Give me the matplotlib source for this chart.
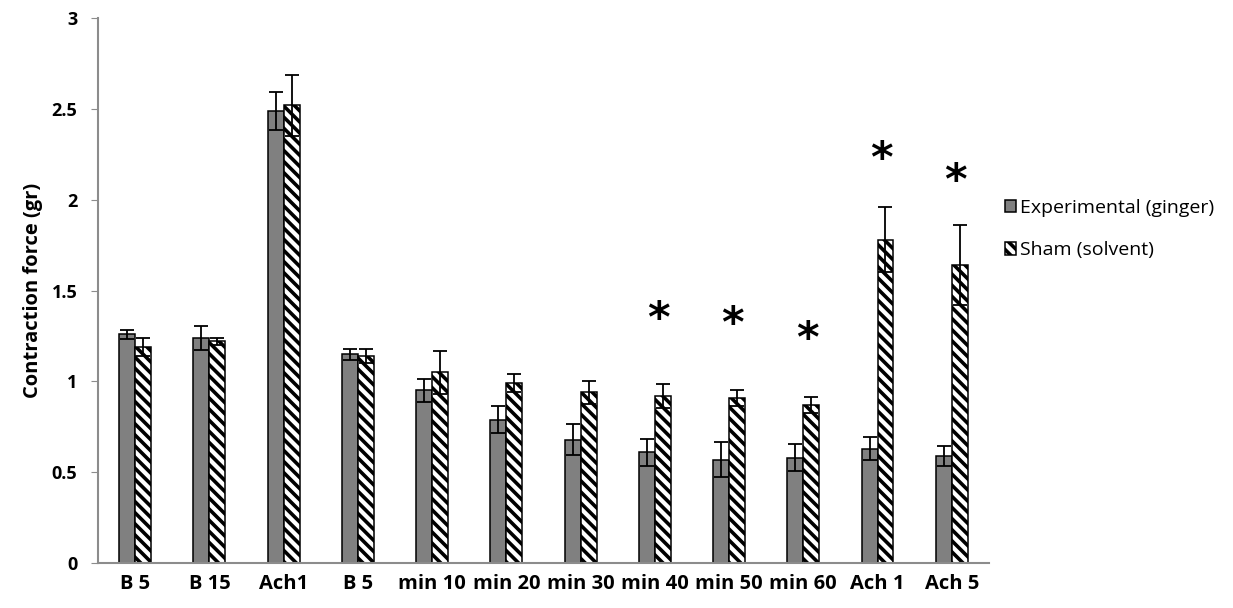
import matplotlib.pyplot as plt
import numpy as np

plt.rcParams['font.family'] = ['Open Sans', 'DejaVu Sans']
plt.rcParams['hatch.linewidth'] = 2.6

categories = ['B 5', 'B 15', 'Ach1', 'B 5', 'min 10', 'min 20', 'min 30',
              'min 40', 'min 50', 'min 60', 'Ach 1', 'Ach 5']
ginger = [1.26, 1.24, 2.49, 1.15, 0.95, 0.79, 0.68, 0.61, 0.57, 0.58, 0.63, 0.59]
ginger_err = [0.025, 0.065, 0.105, 0.03, 0.065, 0.075, 0.085, 0.075, 0.095, 0.075, 0.065, 0.055]
sham = [1.19, 1.22, 2.52, 1.14, 1.05, 0.99, 0.94, 0.92, 0.91, 0.87, 1.78, 1.64]
sham_err = [0.05, 0.02, 0.17, 0.04, 0.12, 0.05, 0.065, 0.065, 0.045, 0.045, 0.18, 0.22]
# significance marks: category index, height
star_idx = [7, 8, 9, 10, 11]
star_y = [1.34, 1.31, 1.23, 2.22, 2.10]

fig = plt.figure(figsize=(12.33, 6.08), dpi=100)
ax = fig.add_axes([0.0795, 0.074, 0.7225, 0.896])

x = np.arange(len(categories))
w = 0.215
ekw = dict(ecolor='black', elinewidth=1.3, capsize=5, capthick=1.3)
ax.bar(x - w / 2, ginger, w, yerr=ginger_err, color='#808080', edgecolor='black',
       linewidth=1.1, label='Experimental (ginger)', error_kw=ekw)
ax.bar(x + w / 2, sham, w, yerr=sham_err, color='white', edgecolor='black',
       linewidth=1.1, hatch='\\\\\\', label='Sham (solvent)', error_kw=ekw)

for i, yv in zip(star_idx, star_y):
    ax.text(i + 0.05, yv, '*', ha='center', va='center', fontsize=31,
            fontweight='bold', family='DejaVu Sans')

ax.set_xlim(-0.5, len(categories) - 0.5)
ax.set_ylim(0, 3)
ax.set_yticks([0, 0.5, 1, 1.5, 2, 2.5, 3])
ax.set_yticklabels(['0', '0.5', '1', '1.5', '2', '2.5', '3'])
ax.set_xticks(x)
ax.set_xticklabels(categories, fontsize=14.5, fontweight='bold')
for lab in ax.get_yticklabels():
    lab.set_fontweight('bold')
    lab.set_fontsize(13)
ax.tick_params(axis='x', length=0, pad=8)
ax.tick_params(axis='y', length=5, color='#8c8c8c', pad=10)
ax.set_ylabel('Contraction force (gr)', fontsize=14.5, fontweight='bold', labelpad=6)

for s in ['top', 'right']:
    ax.spines[s].set_visible(False)
for s in ['left', 'bottom']:
    ax.spines[s].set_color('#8c8c8c')
    ax.spines[s].set_linewidth(1.5)

ax.legend(loc='upper left', bbox_to_anchor=(0.998, 0.70), frameon=False,
          fontsize=14, handlelength=0.6, handleheight=0.6, handletextpad=0.2,
          labelspacing=1.25)

fig.savefig('out.png', dpi=100)
